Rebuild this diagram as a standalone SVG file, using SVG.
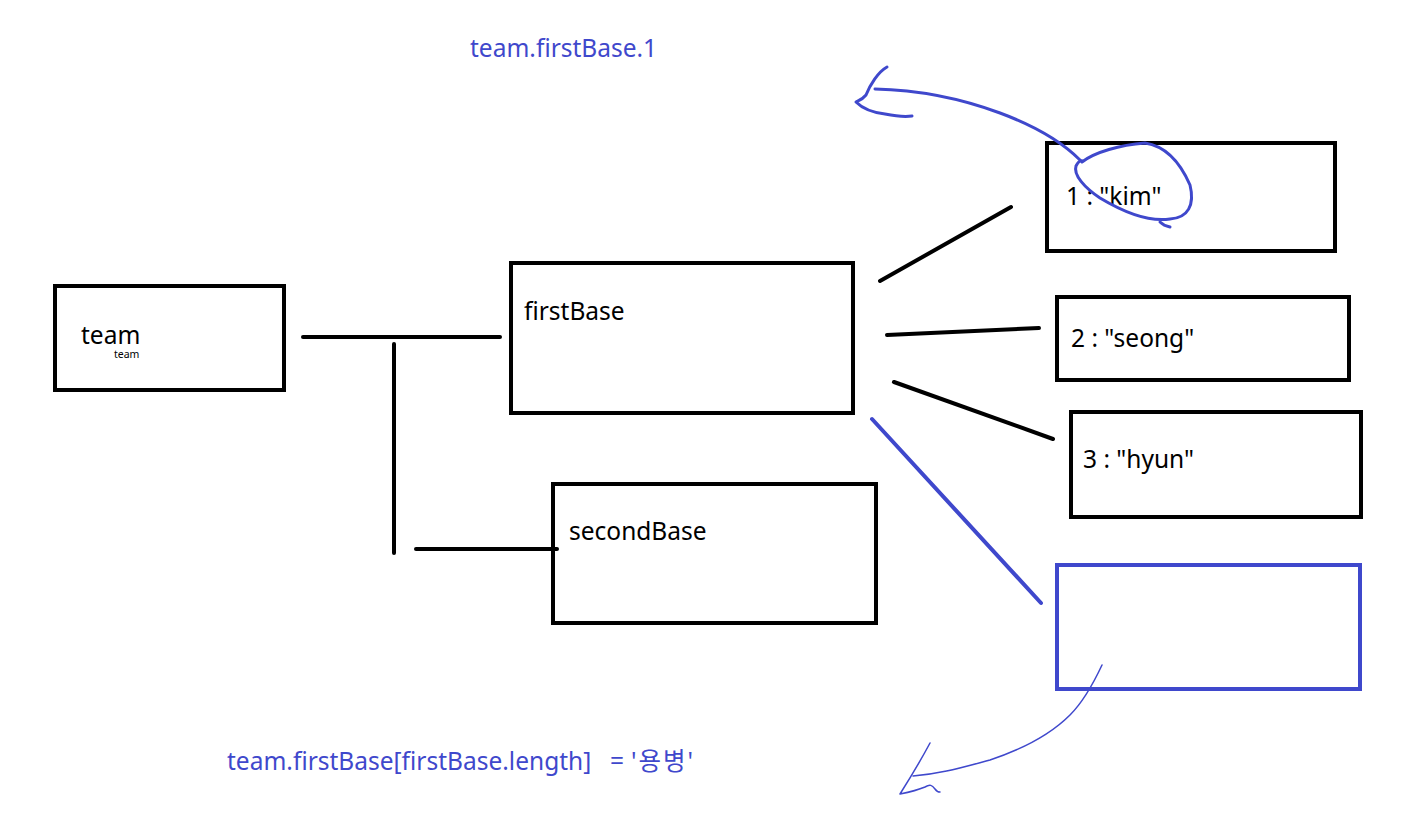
<svg xmlns="http://www.w3.org/2000/svg" width="1411" height="818" viewBox="0 0 1411 818">
<style>
.box{fill:none;stroke:#000;stroke-width:4}
.bbox{fill:none;stroke:#3f48cc;stroke-width:4}
.ln{stroke:#000;stroke-width:4;stroke-linecap:round;fill:none}
.t{font-family:"Noto Sans","Noto Sans CJK KR",sans-serif;font-size:24.5px;fill:#000}
.bt{font-family:"Noto Sans","Noto Sans CJK KR",sans-serif;font-size:24.5px;fill:#3f48cc}
.pen{fill:none;stroke:#3f48cc;stroke-width:3;stroke-linecap:round;stroke-linejoin:round}
.pen2{fill:none;stroke:#3f48cc;stroke-width:1.5;stroke-linecap:round;stroke-linejoin:round}
</style>
<rect width="1411" height="818" fill="#fff"/>
<g id="connectors">
<path class="ln" d="M303 337H500"/>
<path class="ln" d="M394 344V553"/>
<path class="ln" d="M416 549H557"/>
<path class="ln" d="M880 281L1011 207"/>
<path class="ln" d="M887 335L1039 328"/>
<path class="ln" d="M894 382L1053 439"/>
<path d="M872 419L1041 603" fill="none" stroke="#3f48cc" stroke-width="4" stroke-linecap="round"/>
</g>
<g id="team"><rect class="box" x="55" y="286" width="229" height="104"/>
<text class="t" x="81" y="344">team</text>
<text x="114" y="358" style="font-family:'Noto Sans',sans-serif;font-size:10.5px;fill:#000">team</text></g>
<g id="firstBase"><rect class="box" x="511" y="263" width="342" height="150"/>
<text class="t" x="524" y="320">firstBase</text></g>
<g id="secondBase"><rect class="box" x="553" y="484" width="323" height="139"/>
<text class="t" x="569" y="540">secondBase</text></g>
<g id="kim"><rect class="box" x="1047" y="143" width="288" height="108"/>
<text class="t" x="1066" y="205">1 : "kim"</text></g>
<g id="seong"><rect class="box" x="1057" y="297" width="292" height="83"/>
<text class="t" x="1071" y="347">2 : "seong"</text></g>
<g id="hyun"><rect class="box" x="1071" y="412" width="290" height="105"/>
<text class="t" x="1083" y="468">3 : "hyun"</text></g>
<g id="newItem"><rect class="bbox" x="1057" y="565" width="303" height="124"/></g>
<g id="annotations">
<text class="bt" x="470" y="57">team.firstBase.1</text>
<text class="bt" x="227" y="770">team.firstBase[firstBase.length]<tspan x="610">=</tspan><tspan x="631" letter-spacing="2">'용병'</tspan></text>
<path class="pen" d="M875 89C920 90 965 100 1000 113C1035 126 1062 142 1080 160"/>
<path class="pen" d="M887 67C878 72 870 85 866 95C862 100 858 101 856 102C860 106 868 112 885 114C895 116 905 117 912 116"/>
<path class="pen" d="M1082 162C1095 152 1120 145 1145 143C1165 146 1180 162 1190 185C1195 205 1188 218 1170 219C1150 222 1125 213 1100 198C1085 188 1073 175 1076 166C1078 162 1080 160 1083 161"/>
<path class="pen" d="M1160 222C1162 224 1165 226 1170 227"/>
<path class="pen2" d="M1102 665C1095 680 1085 700 1070 715C1050 735 1020 750 990 760C960 768 940 774 913 776"/>
<path class="pen2" d="M930 743C922 758 912 775 900 794C910 792 918 790 925 787C930 784 932 785 935 789C937 792 938 792 940 792"/>
</g>
</svg>
